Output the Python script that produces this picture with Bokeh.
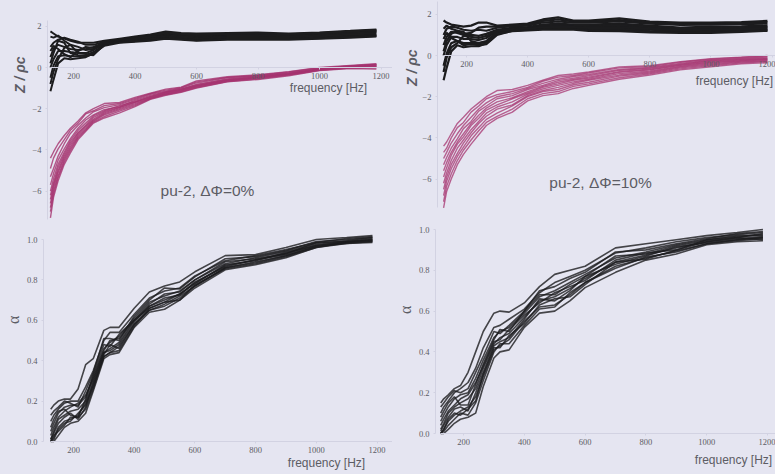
from bokeh.plotting import figure
from bokeh.layouts import column, row
from bokeh.models import Range1d, LinearAxis, FixedTicker, Label, Title, GlobalInlineStyleSheet, NumeralTickFormatter
from bokeh.embed import file_html
from bokeh.resources import INLINE

freq = [125,135,150,170,190,215,240,265,300,350,400,450,500,550,600,700,800,900,1000,1100,1185]
freq_a = [125,135,150,170,190,215,240,265,300,320,350,400,450,500,550,600,700,800,900,1000,1100,1185]

z_upper_0 = [
 [1.75,1.65,1.5,1.4,1.3,1.2,1.2,1.2,1.3,1.4,1.5,1.6,1.75,1.68,1.65,1.68,1.7,1.65,1.7,1.78,1.85],
 [1.5,1.45,1.55,1.3,1.1,1.0,.85,.9,1.2,1.33,1.42,1.5,1.6,1.55,1.5,1.55,1.55,1.55,1.6,1.7,1.75],
 [1.0,1.2,1.35,1.45,1.35,1.25,1.1,1.1,1.25,1.35,1.45,1.55,1.65,1.6,1.55,1.6,1.6,1.6,1.65,1.72,1.78],
 [.8,1.05,.9,.65,.5,.8,1.0,.95,1.18,1.3,1.45,1.5,1.7,1.62,1.6,1.63,1.65,1.62,1.68,1.75,1.82],
 [0.5,0.9,1.1,1.0,0.9,0.85,0.9,1.0,1.2,1.3,1.4,1.45,1.55,1.5,1.45,1.5,1.5,1.5,1.55,1.65,1.72],
 [.2,.7,1.3,1.2,.7,.6,.55,.65,1.1,1.3,1.38,1.48,1.52,1.42,1.38,1.48,1.48,1.42,1.48,1.55,1.6],
 [0.0,0.4,0.8,0.8,0.75,0.7,0.7,0.85,1.15,1.28,1.35,1.4,1.5,1.45,1.4,1.45,1.45,1.45,1.5,1.6,1.65],
 [-0.5,0.1,0.55,0.6,0.55,0.55,0.6,0.75,1.1,1.25,1.3,1.35,1.45,1.4,1.35,1.4,1.4,1.4,1.45,1.5,1.55],
 [-.8,-.2,.4,.95,1.1,.7,.65,.6,1.12,1.22,1.28,1.38,1.42,1.38,1.32,1.38,1.38,1.38,1.42,1.48,1.53],
 [-1.15,-0.6,0.2,0.45,0.4,0.45,0.5,0.7,1.05,1.2,1.25,1.3,1.4,1.35,1.3,1.35,1.35,1.35,1.4,1.45,1.5],
]
z_lower_0 = [
 [-4.4,-4.1,-3.7,-3.3,-2.95,-2.6,-2.2,-2.0,-1.75,-1.7,-1.45,-1.25,-1.05,-.95,-.65,-.45,-.35,-.2,0.0,.1,.18],
 [-4.9,-4.4,-3.95,-3.5,-3.05,-2.7,-2.25,-2.1,-1.85,-1.75,-1.5,-1.27,-1.1,-.98,-.7,-.48,-.38,-.22,-.02,.08,.16],
 [-5.3,-4.9,-4.3,-3.7,-3.2,-2.8,-2.45,-2.15,-1.95,-1.8,-1.55,-1.3,-1.15,-1.0,-.75,-.5,-.4,-.25,-.05,.07,.14],
 [-5.7,-5.15,-4.5,-3.95,-3.45,-2.95,-2.55,-2.3,-2.05,-1.9,-1.6,-1.35,-1.18,-1.05,-.82,-.55,-.42,-.28,-.07,.05,.12],
 [-6.0,-5.4,-4.7,-4.1,-3.55,-3.05,-2.7,-2.35,-2.1,-1.85,-1.65,-1.4,-1.2,-1.05,-.85,-.58,-.45,-.3,-.08,.04,.1],
 [-6.2,-5.6,-4.85,-4.2,-3.65,-3.15,-2.8,-2.42,-2.15,-1.92,-1.68,-1.42,-1.22,-1.08,-.88,-.6,-.47,-.31,-.09,.03,.08],
 [-6.4,-5.7,-5.0,-4.3,-3.75,-3.2,-2.85,-2.5,-2.2,-1.95,-1.7,-1.45,-1.25,-1.1,-.9,-.62,-.48,-.32,-.1,.02,.06],
 [-6.6,-5.85,-5.1,-4.4,-3.85,-3.28,-2.92,-2.55,-2.25,-2.0,-1.75,-1.48,-1.28,-1.12,-.92,-.64,-.5,-.33,-.11,0,.04],
 [-6.8,-6.0,-5.25,-4.5,-3.95,-3.35,-3.0,-2.6,-2.3,-2.05,-1.8,-1.5,-1.3,-1.15,-.95,-.66,-.52,-.35,-.12,-.02,.02],
 [-7.0,-6.15,-5.35,-4.6,-4.05,-3.42,-3.05,-2.65,-2.38,-2.12,-1.85,-1.52,-1.32,-1.18,-.98,-.68,-.55,-.37,-.14,-.03,-.03],
 [-7.3,-6.3,-5.5,-4.7,-4.15,-3.5,-3.1,-2.7,-2.45,-2.2,-1.9,-1.55,-1.35,-1.2,-1.0,-.7,-.58,-.4,-.15,-.05,-.08],
]
z_upper_10 = [
 [1.7,1.6,1.5,1.45,1.4,1.45,1.6,1.6,1.45,1.5,1.55,1.75,1.85,1.7,1.7,1.8,1.65,1.6,1.6,1.62,1.68],
 [1.3,1.45,1.3,1.2,1.05,1.1,1.35,1.4,1.4,1.45,1.5,1.68,1.75,1.65,1.65,1.72,1.6,1.54,1.55,1.57,1.62],
 [1.0,1.3,1.4,1.35,1.25,1.2,1.25,1.2,1.35,1.42,1.45,1.6,1.65,1.6,1.6,1.65,1.55,1.48,1.5,1.52,1.55],
 [.8,1.1,.85,.7,.5,.55,.5,.55,1.0,1.2,1.25,1.3,1.3,1.3,1.26,1.24,1.18,1.14,1.15,1.18,1.22],
 [0.5,0.9,1.15,1.1,1.0,1.0,0.95,1.05,1.25,1.35,1.38,1.5,1.55,1.5,1.5,1.55,1.45,1.35,1.4,1.42,1.45],
 [.2,.7,1.05,1.2,1.15,.7,.6,.65,1.1,1.3,1.35,1.45,1.5,1.45,1.45,1.5,1.4,1.32,1.35,1.38,1.4],
 [0.0,0.5,0.9,0.9,0.8,0.8,0.75,0.85,1.2,1.28,1.32,1.4,1.45,1.42,1.4,1.45,1.35,1.28,1.3,1.33,1.35],
 [-0.5,0.1,0.6,0.7,0.6,0.6,0.6,0.7,1.15,1.22,1.28,1.33,1.35,1.35,1.32,1.3,1.25,1.18,1.2,1.22,1.25],
 [-.8,-.1,.4,.6,.95,.9,.85,.95,1.22,1.25,1.3,1.36,1.4,1.38,1.36,1.38,1.3,1.22,1.25,1.28,1.3],
 [-1.2,-0.6,0.2,0.5,0.4,0.45,0.45,0.6,1.05,1.18,1.22,1.25,1.25,1.25,1.2,1.18,1.12,1.1,1.1,1.15,1.2],
]
z_lower_10 = [
 [-4.4,-4.2,-3.8,-3.3,-3.0,-2.6,-2.3,-2.0,-1.7,-1.65,-1.45,-1.2,-.97,-.9,-.8,-.55,-.5,-.3,-.15,-.08,0.0],
 [-4.7,-4.5,-4.0,-3.5,-3.25,-2.75,-2.45,-2.1,-1.9,-1.75,-1.55,-1.25,-1.05,-.97,-.85,-.6,-.54,-.33,-.18,-.1,-.04],
 [-5.0,-4.7,-4.25,-3.8,-3.4,-3.0,-2.6,-2.3,-2.0,-1.85,-1.6,-1.35,-1.15,-1.02,-.92,-.68,-.58,-.38,-.22,-.14,-.08],
 [-5.3,-4.95,-4.5,-4.05,-3.55,-3.2,-2.7,-2.45,-2.1,-1.95,-1.65,-1.45,-1.22,-1.1,-.98,-.72,-.62,-.42,-.25,-.17,-.12],
 [-5.6,-5.2,-4.7,-4.2,-3.8,-3.3,-2.9,-2.55,-2.25,-2.05,-1.75,-1.5,-1.3,-1.15,-1.05,-.78,-.67,-.45,-.28,-.2,-.15],
 [-5.9,-5.45,-4.85,-4.3,-3.95,-3.4,-3.05,-2.65,-2.4,-2.1,-1.82,-1.55,-1.38,-1.2,-1.1,-.82,-.7,-.48,-.32,-.23,-.18],
 [-6.2,-5.7,-5.1,-4.5,-4.1,-3.6,-3.2,-2.8,-2.5,-2.25,-1.88,-1.62,-1.45,-1.28,-1.15,-.88,-.75,-.52,-.35,-.26,-.2],
 [-6.5,-5.9,-5.3,-4.75,-4.25,-3.75,-3.3,-2.95,-2.6,-2.4,-1.95,-1.7,-1.55,-1.35,-1.2,-.95,-.8,-.56,-.4,-.29,-.24],
 [-6.8,-6.1,-5.5,-4.9,-4.45,-3.9,-3.5,-3.1,-2.8,-2.45,-2.0,-1.75,-1.65,-1.42,-1.3,-1.0,-.85,-.6,-.45,-.32,-.27],
 [-7.1,-6.35,-5.75,-5.1,-4.6,-4.1,-3.65,-3.25,-2.95,-2.6,-2.1,-1.85,-1.75,-1.5,-1.38,-1.08,-.9,-.65,-.5,-.36,-.3],
 [-7.4,-6.6,-6.0,-5.3,-4.8,-4.3,-3.85,-3.4,-3.05,-2.75,-2.2,-1.95,-1.85,-1.6,-1.45,-1.15,-.95,-.7,-.55,-.4,-.35],
]
alpha_0 = [
 [.16,.18,.2,.21,.21,.26,.38,.41,.55,.565,.565,.66,.74,.77,.79,.84,.92,.925,.96,1.0,1.01,1.02],
 [.13,.15,.17,.2,.19,.17,.25,.34,.51,.51,.5,.62,.7,.76,.755,.815,.905,.915,.945,.99,1.0,1.01],
 [.1,.13,.16,.19,.2,.2,.27,.35,.5,.54,.54,.63,.71,.745,.76,.82,.895,.92,.95,.985,1.005,1.015],
 [.07,.11,.15,.16,.13,.12,.21,.33,.48,.47,.53,.6,.68,.73,.74,.8,.89,.905,.93,.985,.99,1.005],
 [.05,.09,.14,.17,.18,.18,.22,.32,.46,.49,.52,.61,.69,.72,.745,.8,.88,.91,.94,.98,.995,1.01],
 [.03,.07,.12,.15,.17,.19,.23,.31,.45,.5,.51,.6,.66,.69,.73,.78,.875,.895,.935,.97,.985,1.0],
 [.01,.05,.11,.13,.15,.16,.2,.3,.44,.46,.49,.6,.67,.7,.73,.785,.87,.9,.93,.975,.99,1.0],
 [.01,.04,.09,.12,.14,.11,.17,.29,.44,.45,.48,.59,.67,.71,.725,.79,.865,.9,.925,.97,.99,.995],
 [0,.02,.07,.1,.11,.13,.19,.28,.42,.44,.47,.58,.65,.68,.72,.77,.86,.89,.92,.965,.985,.995],
 [0,.01,.06,.09,.1,.14,.18,.27,.43,.48,.46,.58,.65,.67,.71,.77,.86,.885,.92,.965,.98,.99],
 [0,.03,.05,.08,.12,.12,.16,.26,.42,.44,.45,.57,.66,.69,.7,.775,.855,.88,.915,.96,.985,.99],
 [0,0,.03,.07,.09,.1,.14,.25,.41,.43,.44,.565,.64,.655,.7,.76,.85,.875,.91,.96,.98,.985],
]
alpha_10 = [
 [.15,.17,.19,.22,.235,.3,.4,.5,.59,.6,.595,.64,.72,.78,.8,.82,.91,.93,.95,.97,.985,1.0],
 [.13,.15,.18,.21,.2,.22,.3,.38,.5,.49,.53,.6,.7,.72,.76,.79,.89,.9,.93,.955,.98,.99],
 [.1,.13,.16,.2,.22,.25,.32,.42,.52,.53,.56,.61,.69,.74,.77,.8,.885,.91,.94,.96,.975,.985],
 [.08,.11,.15,.18,.14,.14,.24,.34,.46,.51,.5,.6,.68,.68,.73,.77,.87,.88,.92,.945,.96,.98],
 [.06,.09,.13,.17,.19,.2,.27,.36,.47,.5,.52,.59,.67,.7,.74,.78,.86,.89,.925,.95,.965,.975],
 [.04,.07,.11,.14,.17,.19,.25,.33,.45,.46,.51,.58,.64,.69,.72,.75,.85,.885,.9,.95,.97,.97],
 [.02,.05,.1,.13,.15,.17,.22,.32,.44,.47,.49,.57,.65,.67,.71,.76,.84,.875,.91,.94,.955,.965],
 [.01,.04,.08,.12,.13,.11,.2,.3,.43,.45,.47,.56,.66,.65,.7,.77,.83,.87,.915,.935,.95,.96],
 [0,.02,.07,.1,.09,.12,.16,.29,.42,.42,.48,.54,.63,.66,.67,.73,.84,.855,.9,.94,.96,.95],
 [0,.02,.06,.09,.11,.13,.18,.28,.41,.43,.46,.55,.62,.63,.68,.74,.82,.86,.895,.93,.945,.955],
 [0,.01,.04,.07,.1,.09,.15,.26,.4,.44,.44,.53,.61,.62,.69,.74,.81,.865,.89,.93,.95,.96],
 [0,0,.02,.05,.07,.08,.1,.23,.37,.4,.41,.52,.59,.6,.65,.715,.79,.85,.88,.925,.94,.945],
]
x_ticks = [200,400,600,800,1000,1200]
z_ticks = [2,0,-2,-4,-6]
a_ticks = [0.0,0.2,0.4,0.6,0.8,1.0]
BG = "#e5e5f1"
BLACK = "#1c1c1e"
MAGENTA = "#a5336f"
GREY = "#5c5c64"
AXIS = "#d2d2e2"
SPLIT = 392

def note(p, x, y, text, size):
    p.add_layout(Label(x=x, y=y, x_units="screen", y_units="screen", text=text,
                       text_font="Liberation Sans", text_font_size=size,
                       text_color=GREY, text_align="center", text_baseline="middle"))

def panel(left, right, top, bottom, axis_px, x200, xscale, y0_px, yscale, yticks, ybounds, fmt,
          ylabel, yfont, ylabel_top, label_xy):
    p = figure(width=right-left, height=bottom-top, output_backend="svg", toolbar_location=None,
               x_axis_type=None, y_axis_type=None, min_border_left=axis_px-left,
               min_border_right=0, min_border_top=0, min_border_bottom=0,
               x_range=Range1d(200+(axis_px-x200)/xscale, 200+(right-x200)/xscale),
               y_range=Range1d((y0_px-bottom)/yscale, (y0_px-top)/yscale),
               background_fill_color=BG, border_fill_color=BG, outline_line_color=None)
    p.grid.visible = False
    xa = LinearAxis(fixed_location=0, ticker=FixedTicker(ticks=x_ticks), bounds=(125, 1263))
    ya = LinearAxis(ticker=FixedTicker(ticks=yticks), bounds=ybounds)
    if fmt:
        ya.formatter = NumeralTickFormatter(format=fmt)
    for a in (xa, ya):
        a.axis_line_color = AXIS
        a.major_tick_line_color = AXIS
        a.minor_tick_line_color = None
        a.major_tick_out = 2
        a.major_tick_in = 0
        a.major_label_text_font = "Liberation Serif"
        a.major_label_text_font_size = "8.5px"
        a.major_label_text_color = GREY
    xa.major_label_standoff = 3
    ya.major_label_standoff = 4
    p.add_layout(xa, "below")
    p.add_layout(ya, "left")
    p.add_layout(Title(text=ylabel, align="right", offset=ylabel_top-top, standoff=yfont[3],
                       text_font=yfont[0], text_font_size=yfont[1], text_font_style=yfont[2],
                       text_color=GREY), "left")
    note(p, label_xy[0]-axis_px, bottom-label_xy[1], "frequency [Hz]", "12px")
    return p

tl = panel(0, SPLIT, 0, 222, 47, 73, .3075, 67, 20.6, z_ticks, (-7.4, 2.3), None, "Z / ρc",
           ("Liberation Sans", "14px", "bold italic", 4), 56, (328, 87))
note(tl, 207-47, 222-190, "pu-2, ΔΦ=0%", "15.5px")
tr = panel(SPLIT, 775, 0, 222, 437, 466, .3055, 55, 20.6, z_ticks, (-7.4, 2.6), None, "Z / ρc",
           ("Liberation Sans", "14px", "bold italic", 0), 49, (734, 80))
note(tr, 600-437, 222-182, "pu-2, ΔΦ=10%", "15.5px")
bl = panel(0, SPLIT, 222, 474, 43, 73, .3035, 441, 202, a_ticks, (0, 1.0), "0.0", "α",
           ("Liberation Serif", "16px", "normal", 4), 315, (326, 462))
br = panel(SPLIT, 775, 222, 474, 435, 463, .304, 433, 204, a_ticks, (0, 1.0), "0.0", "α",
           ("Liberation Serif", "16px", "normal", 3), 305, (733, 459))

for ys in z_upper_0:
    tl.line(freq, ys, line_color=BLACK, line_width=2)
for ys in z_lower_0:
    tl.line(freq, ys, line_color=MAGENTA, line_width=1.4, line_alpha=.8)
for ys in z_upper_10:
    tr.line(freq, ys, line_color=BLACK, line_width=2.2)
for ys in z_lower_10:
    tr.line(freq, ys, line_color=MAGENTA, line_width=1.4, line_alpha=.75)
for ys in alpha_0:
    bl.line(freq_a, ys, line_color=BLACK, line_width=1.6, line_alpha=.8)
for ys in alpha_10:
    br.line(freq_a, ys, line_color=BLACK, line_width=1.6, line_alpha=.8)

page = column(row(tl, tr, spacing=0), row(bl, br, spacing=0), spacing=0,
              stylesheets=[GlobalInlineStyleSheet(css="html,body{margin:0;padding:0;background:%s;overflow:hidden}" % BG)])

open("out.html", "w").write(file_html(page, INLINE))
